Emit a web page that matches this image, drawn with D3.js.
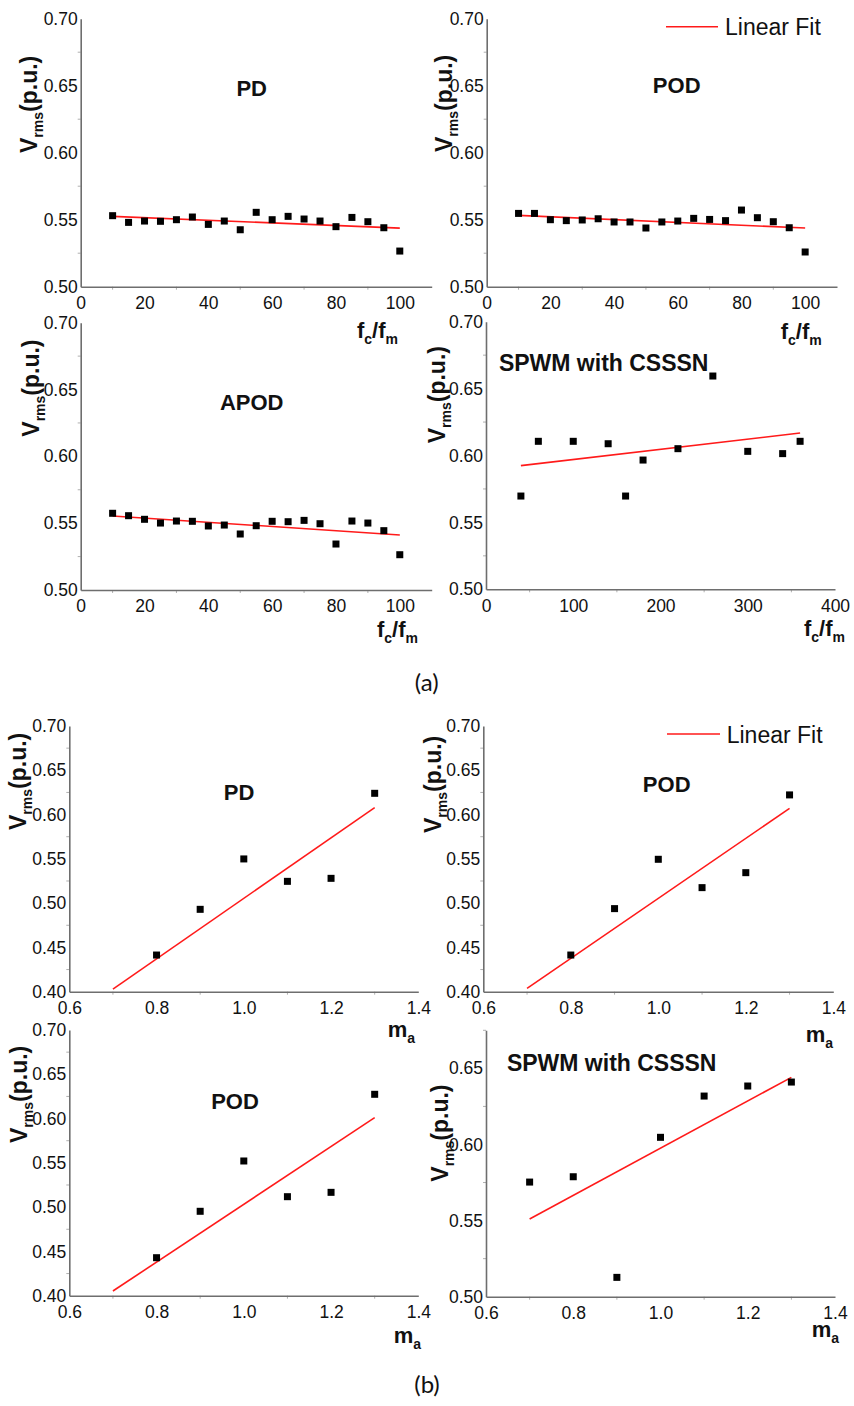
<!DOCTYPE html>
<html>
<head>
<meta charset="utf-8">
<script src="https://cdn.jsdelivr.net/npm/d3@7"></script>
<style>
  html, body { margin: 0; padding: 0; background: #fff; }
  svg { display: block; }
</style>
</head>
<body>
<svg id="chart" width="854" height="1406"></svg>
<script>
// ---------------- DATA ----------------
// (a) Vrms vs fc/fm
const fcfm = [10, 15, 20, 25, 30, 35, 40, 45, 50, 55, 60, 65, 70, 75, 80, 85, 90, 95, 100];
const pdA   = [0.553, 0.548, 0.549, 0.5488, 0.550, 0.552, 0.5465, 0.549, 0.5425, 0.5555, 0.550, 0.5525, 0.5505, 0.549, 0.5448, 0.5517, 0.5485, 0.544, 0.5266];
const podA  = [0.5547, 0.5547, 0.550, 0.5493, 0.5498, 0.5507, 0.5483, 0.5483, 0.5438, 0.5483, 0.549, 0.551, 0.5502, 0.5493, 0.5572, 0.5515, 0.5485, 0.544, 0.5259];
const apodA = [0.5574, 0.5556, 0.5529, 0.5501, 0.5516, 0.5514, 0.5479, 0.5486, 0.5419, 0.5481, 0.5514, 0.5511, 0.5521, 0.5496, 0.5344, 0.5516, 0.5501, 0.5444, 0.5264];
const fcfmCsssn = [40, 60, 100, 140, 160, 180, 220, 260, 300, 340, 360];
const csssnA = [0.5697, 0.6106, 0.6106, 0.6088, 0.5697, 0.5966, 0.6051, 0.6594, 0.6031, 0.6014, 0.6106];

// linear fit end points (a)
const fitXa      = [10, 100];
const fitPdA     = [0.5525, 0.5437];
const fitPodA    = [0.5532, 0.5438];
const fitApodA   = [0.5554, 0.5412];
const fitXcsA    = [40, 360];
const fitCsssnA  = [0.5924, 0.6168];

// (b) Vrms vs ma
const ma = [0.8, 0.9, 1.0, 1.1, 1.2, 1.3];
const pdB   = [0.4414, 0.493, 0.5499, 0.5246, 0.528, 0.624];
const podB  = [0.4414, 0.4938, 0.5495, 0.5175, 0.5344, 0.6222];
const pod2B = [0.4429, 0.4953, 0.5521, 0.5118, 0.5167, 0.6274];
const maCsssn = [0.7, 0.8, 0.9, 1.0, 1.1, 1.2, 1.3];
const csssnB = [0.5753, 0.5788, 0.5127, 0.6047, 0.6318, 0.6384, 0.641];

// linear fit end points (b)
const fitXb      = [0.7, 1.3];
const fitPdB     = [0.403, 0.6078];
const fitPodB    = [0.4038, 0.607];
const fitPod2B   = [0.4053, 0.6011];
const fitCsssnB  = [0.551, 0.6441];

// tick values
const xTicksFc   = [0, 20, 40, 60, 80, 100];
const xTicksCs   = [0, 100, 200, 300, 400];
const xTicksMa   = [0.6, 0.8, 1.0, 1.2, 1.4];
const yTicksA    = [0.50, 0.55, 0.60, 0.65, 0.70];
const yTicksB    = [0.40, 0.45, 0.50, 0.55, 0.60, 0.65, 0.70];
const yTicksCsB  = [0.50, 0.55, 0.60, 0.65];

// texts
const legendText = "Linear Fit";
const figLabels = ["(a)", "(b)"];

// ---------------- LAYOUT ----------------
const svg = d3.select("#chart");

const panels = [
  { title: "PD", xs: fcfm, ys: pdA, fx: fitXa, fy: fitPdA,
    xd: [0, 110], yd: [0.5, 0.7], xt: xTicksFc, yt: yTicksA, xf: d3.format("d"),
    box: [80.7, 431.7, 18.7, 286.7], tpos: [251.7, 96], tsize: 22,
    ylab: [36.7, 153], xlab: "fc", xlpos: [398, 338], legend: false },
  { title: "POD", xs: fcfm, ys: podA, fx: fitXa, fy: fitPodA,
    xd: [0, 110], yd: [0.5, 0.7], xt: xTicksFc, yt: yTicksA, xf: d3.format("d"),
    box: [486.7, 837, 18.7, 286.7], tpos: [676.7, 92.7], tsize: 22,
    ylab: [451.7, 152], xlab: "fc", xlpos: [821.7, 339.3], legend: [666, 718, 26.7, 725, 35] },
  { title: "APOD", xs: fcfm, ys: apodA, fx: fitXa, fy: fitApodA,
    xd: [0, 110], yd: [0.5, 0.7], xt: xTicksFc, yt: yTicksA, xf: d3.format("d"),
    box: [80.7, 431.7, 322.7, 590], tpos: [251.7, 410], tsize: 22,
    ylab: [39.3, 436.7], xlab: "fc", xlpos: [418, 636.7], legend: false },
  { title: "SPWM with CSSSN", xs: fcfmCsssn, ys: csssnA, fx: fitXcsA, fy: fitCsssnA,
    xd: [0, 400], yd: [0.5, 0.7], xt: xTicksCs, yt: yTicksA, xf: d3.format("d"),
    box: [486, 835, 321.7, 589.3], tpos: [603.7, 370.7], tsize: 23,
    ylab: [445, 443.3], xlab: "fc", xlpos: [845, 636], legend: false },
  { title: "PD", xs: ma, ys: pdB, fx: fitXb, fy: fitPdB,
    xd: [0.6, 1.4], yd: [0.4, 0.7], xt: xTicksMa, yt: yTicksB, xf: d3.format(".1f"),
    box: [69.3, 418.3, 726, 991.7], tpos: [239, 800], tsize: 22,
    ylab: [25.5, 830], xlab: "ma", xlpos: [415, 1036.7], legend: false },
  { title: "POD", xs: ma, ys: podB, fx: fitXb, fy: fitPodB,
    xd: [0.6, 1.4], yd: [0.4, 0.7], xt: xTicksMa, yt: yTicksB, xf: d3.format(".1f"),
    box: [483.3, 833.3, 726, 991.7], tpos: [666.7, 791.7], tsize: 22,
    ylab: [441, 833], xlab: "ma", xlpos: [833, 1042], legend: [667, 720, 734, 726.7, 742.7] },
  { title: "POD", xs: ma, ys: pod2B, fx: fitXb, fy: fitPod2B,
    xd: [0.6, 1.4], yd: [0.4, 0.7], xt: xTicksMa, yt: yTicksB, xf: d3.format(".1f"),
    box: [69.3, 418.3, 1030, 1295.7], tpos: [235, 1109], tsize: 22,
    ylab: [27, 1143], xlab: "ma", xlpos: [421, 1343], legend: false },
  { title: "SPWM with CSSSN", xs: maCsssn, ys: csssnB, fx: fitXb, fy: fitCsssnB,
    xd: [0.6, 1.4], yd: [0.5, 0.675], xt: xTicksMa, yt: yTicksCsB, xf: d3.format(".1f"),
    box: [486, 835, 1030.3, 1296.7], tpos: [611.7, 1070.7], tsize: 23,
    ylab: [448, 1181.7], xlab: "ma", xlpos: [839, 1337], legend: false }
];

const axisColor = "#6e6e6e";
const tickFont = "'Liberation Sans', Arial, sans-serif";

panels.forEach(p => {
  const [L, R, T, B] = p.box;
  const x = d3.scaleLinear().domain(p.xd).range([L, R]);
  const y = d3.scaleLinear().domain(p.yd).range([B, T]);
  const g = svg.append("g");

  // minor ticks
  const yMinor = d3.range(p.yd[0] + 0.025, p.yd[1] + 1e-9, 0.05);
  g.selectAll(".ym").data(yMinor).join("line")
    .attr("x1", L - 3).attr("x2", L).attr("y1", d => y(d)).attr("y2", d => y(d))
    .attr("stroke", "#b0b0b0").attr("stroke-width", 1);
  const xStep = p.xt[1] - p.xt[0];
  const xMinor = p.xt.slice(0, -1).map(v => v + xStep / 2);
  g.selectAll(".xm").data(xMinor).join("line")
    .attr("x1", d => x(d)).attr("x2", d => x(d)).attr("y1", B).attr("y2", B + 3)
    .attr("stroke", "#b0b0b0").attr("stroke-width", 1);

  // y axis
  const ya = g.append("g").attr("transform", `translate(${L},0)`)
    .call(d3.axisLeft(y).tickValues(p.yt).tickSize(0).tickPadding(3).tickFormat(d3.format(".2f")));
  ya.select(".domain").attr("stroke", axisColor).attr("stroke-width", 1.6);
  ya.selectAll("text").attr("font-family", tickFont).attr("font-size", 17.5).attr("fill", "#111");

  // x axis
  const xa = g.append("g").attr("transform", `translate(0,${B})`)
    .call(d3.axisBottom(x).tickValues(p.xt).tickSize(0).tickPadding(10).tickFormat(p.xf));
  xa.select(".domain").attr("stroke", axisColor).attr("stroke-width", 1.6);
  xa.selectAll("text").attr("font-family", tickFont).attr("font-size", 17.5).attr("fill", "#111");

  // linear fit
  const fitPts = p.fx.map((v, i) => [v, p.fy[i]]);
  g.append("path").datum(fitPts)
    .attr("d", d3.line().x(d => x(d[0])).y(d => y(d[1])))
    .attr("fill", "none").attr("stroke", "#ff1a1a").attr("stroke-width", 1.6);

  // points
  const pts = p.xs.map((v, i) => [v, p.ys[i]]);
  const s = 7;
  g.selectAll(".pt").data(pts).join("rect")
    .attr("x", d => x(d[0]) - s / 2).attr("y", d => y(d[1]) - s / 2)
    .attr("width", s).attr("height", s).attr("fill", "#000");

  // title
  g.append("text").attr("x", p.tpos[0]).attr("y", p.tpos[1])
    .attr("text-anchor", "middle").attr("font-family", tickFont)
    .attr("font-weight", "bold").attr("font-size", p.tsize).attr("fill", "#111")
    .text(p.title);

  // y label (rotated)
  const yl = g.append("text")
    .attr("transform", `translate(${p.ylab[0]},${p.ylab[1]}) rotate(-90)`)
    .attr("font-family", tickFont).attr("font-weight", "bold").attr("font-size", 23).attr("fill", "#111");
  yl.append("tspan").text("V");
  yl.append("tspan").attr("font-size", 14).attr("dy", 6).text("rms");
  yl.append("tspan").attr("dy", -6).text("(p.u.)");

  // x label
  const xl = g.append("text").attr("x", p.xlpos[0]).attr("y", p.xlpos[1])
    .attr("text-anchor", "end").attr("font-family", tickFont)
    .attr("font-weight", "bold").attr("font-size", 22).attr("fill", "#111");
  if (p.xlab === "fc") {
    xl.append("tspan").text("f");
    xl.append("tspan").attr("font-size", 14).attr("dy", 6).text("c");
    xl.append("tspan").attr("dy", -6).text("/f");
    xl.append("tspan").attr("font-size", 14).attr("dy", 6).text("m");
  } else {
    xl.append("tspan").text("m");
    xl.append("tspan").attr("font-size", 14).attr("dy", 6).text("a");
  }

  // legend
  if (p.legend) {
    const [lx1, lx2, ly, tx, ty] = p.legend;
    g.append("line").attr("x1", lx1).attr("x2", lx2).attr("y1", ly).attr("y2", ly)
      .attr("stroke", "#ff1a1a").attr("stroke-width", 1.6);
    g.append("text").attr("x", tx).attr("y", ty)
      .attr("font-family", tickFont).attr("font-size", 23).attr("fill", "#111")
      .text(legendText);
  }
});

// figure sub-labels
const figPos = [[426.7, 691], [427, 1393]];
svg.selectAll(".fig").data(figLabels).join("text")
  .attr("x", (d, i) => figPos[i][0]).attr("y", (d, i) => figPos[i][1])
  .attr("text-anchor", "middle").attr("font-family", "Lato, 'Open Sans', sans-serif")
  .attr("font-size", 24).attr("fill", "#111")
  .text(d => d);
</script>
</body>
</html>
